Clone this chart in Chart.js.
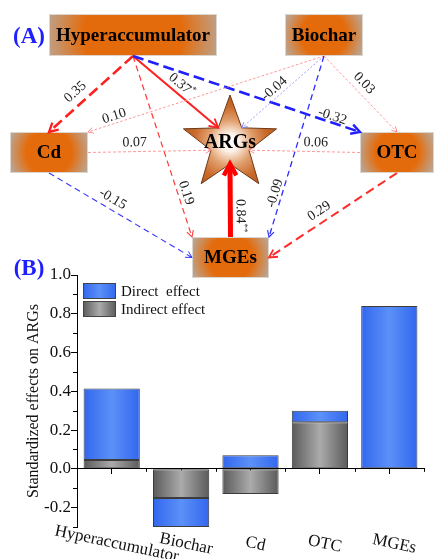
<!DOCTYPE html>
<html>
<head>
<meta charset="utf-8">
<script src="https://cdn.jsdelivr.net/npm/chart.js@4"></script>
<style>
html, body { margin: 0; padding: 0; background: #fff; }
#wrap { position: relative; width: 434px; height: 559px; overflow: hidden; }
canvas { position: absolute; left: 0; top: 0; }
</style>
</head>
<body>
<div id="wrap">
<canvas id="barChart" width="434" height="559"></canvas>
<canvas id="pathChart" width="434" height="290"></canvas>
</div>
<script>
// ---- (B) standardized effects on ARGs ----
const factors = ['Hyperaccumulator', 'Biochar', 'Cd', 'OTC', 'MGEs'];
const directEffect = [0.37, -0.15, 0.07, 0.06, 0.84];
const indirectEffect = [0.045, -0.15, -0.13, 0.24, null];
const yMajorStep = 0.2;
const yMinorStep = 0.1;

// ---- (A) path model ----
const nodes = ['Hyperaccumulator', 'Biochar', 'Cd', 'OTC', 'ARGs', 'MGEs'];
const pathFrom = [0, 0, 0, 0, 1, 1, 1, 1, 2, 3, 2, 3, 5];
const pathTo = [2, 5, 4, 3, 2, 4, 5, 3, 4, 4, 5, 5, 4];
const pathCoef = [0.35, 0.19, 0.37, -0.32, 0.10, -0.04, -0.09, 0.03, 0.07, 0.06, -0.15, 0.29, 0.84];
const pathSig = ['', '', '*', '', '', '', '', '', '', '', '', '', '**'];

// layout of the diagram (diagram units), kept apart from the values
const nodeX = [133, 324, 49, 397, 230, 230.5];
const nodeY = [35, 35, 152.5, 152.5, 144, 257.5];
const nodeW = [168, 78, 78, 74, 0, 77];
const nodeH = [42, 42, 41, 41, 0, 41];
const starOuter = 49, starInner = 20;
const fromAnchor = ['b', 'b', 'b', 'b', 'b', 'b', 'b', 'b', 'r', 'l', 'b', 'b', 't'];
const toAnchor = ['t', 'tl', 'ul', 'tl', 'tr', 'ur', 'tr', 't', 'll', 'lr', 'l', 'r', 'bot'];
const labelT = [0.59, 0.77, 0.50, 0.87, 0.88, 0.54, 0.77, 0.45, 0.38, 0.40, 0.41, 0.56, 0.29];
const labelOff = [12, 8, 9, 6, 7, 8, 7, 10, 9, 9, 10, 11, 10];
const pathColor = ['#ff1f1f', '#ff3a3a', '#ff1f1f', '#1f1fff', '#ff8c8c', '#8585ff', '#2d2dff',
                   '#ff8c8c', '#ff8c8c', '#ff8c8c', '#3535ff', '#ff2a2a', '#ff0000'];
const pathWidth = [2.6, 1.2, 2, 2.6, 0.9, 0.8, 1.3, 0.9, 0.9, 0.9, 1.1, 2, 5];
const pathDash = [[11, 5], [6, 4], [], [11, 5], [2.5, 2], [2, 2], [6, 4], [2.5, 2], [3, 2], [3, 2], [6, 4], [9, 5], []];
const headLen = [10, 7, 10, 10, 6, 6, 7, 6, 6, 6, 7, 9, 13];

const serif = '"Liberation Serif", "Times New Roman", serif';
const barPct = 0.81;
const blueStops = ['#3267ee', '#5c90f8', '#3267ee'];
const grayStops = ['#5a5a5a', '#ababab', '#5a5a5a'];

const isMajor = v => Math.abs(Math.round(v / yMajorStep) * yMajorStep - v) < 1e-6;

function barGradient(c, stops) {
  const chart = c.chart;
  const xs = chart.scales.x;
  if (!xs || !chart.chartArea || c.dataIndex === undefined) return stops[1];
  const cx = xs.getPixelForValue(c.dataIndex);
  const hw = xs.width / factors.length * barPct / 2;
  const g = chart.ctx.createLinearGradient(cx - hw, 0, cx + hw, 0);
  g.addColorStop(0, stops[0]);
  g.addColorStop(0.5, stops[1]);
  g.addColorStop(1, stops[2]);
  return g;
}

const barExtras = {
  id: 'barExtras',
  afterDraw(chart) {
    const ctx = chart.ctx;
    const xs = chart.scales.x, ys = chart.scales.y;
    const area = chart.chartArea;
    const y0 = ys.getPixelForValue(0);
    ctx.save();
    ctx.strokeStyle = '#000';
    ctx.lineWidth = 1;
    // minor ticks (shorter)
    ys.ticks.forEach(t => {
      if (isMajor(t.value)) return;
      const y = Math.round(ys.getPixelForValue(t.value)) + 0.5;
      ctx.beginPath(); ctx.moveTo(area.left - 4, y); ctx.lineTo(area.left, y); ctx.stroke();
    });
    factors.forEach((f, i) => {
      const x = Math.round(xs.getPixelForValue(i + 0.5)) + 0.5;
      ctx.beginPath(); ctx.moveTo(x, y0); ctx.lineTo(x, y0 + 3); ctx.stroke();
    });
    // rotated category labels
    ctx.fillStyle = '#111';
    ctx.font = '17px ' + serif;
    ctx.textAlign = 'center';
    ctx.textBaseline = 'middle';
    factors.forEach((f, i) => {
      ctx.save();
      ctx.translate(xs.getPixelForValue(i) + 5, area.bottom + 17);
      ctx.rotate(12 * Math.PI / 180);
      ctx.fillText(f, 0, 0);
      ctx.restore();
    });
    // legend inside the plot
    const items = [
      { text: chart.data.datasets[1].label, stops: blueStops },
      { text: chart.data.datasets[0].label, stops: grayStops }
    ];
    items.forEach((it, k) => {
      const bx = area.left + 6, by = area.top + 8 + k * 18, bw = 33, bh = 16;
      const g = ctx.createLinearGradient(bx, 0, bx + bw, 0);
      g.addColorStop(0, it.stops[0]); g.addColorStop(0.5, it.stops[1]); g.addColorStop(1, it.stops[2]);
      ctx.fillStyle = g;
      ctx.fillRect(bx, by, bw, bh);
      ctx.strokeStyle = '#444';
      ctx.strokeRect(bx + 0.5, by + 0.5, bw - 1, bh - 1);
      ctx.fillStyle = '#111';
      ctx.font = '15px ' + serif;
      ctx.textAlign = 'left';
      ctx.fillText(it.text, bx + 38, by + bh / 2 + 1);
    });
    // panel letter
    ctx.fillStyle = '#1e1eff';
    ctx.font = 'bold 23px ' + serif;
    ctx.textAlign = 'center';
    ctx.fillText('(B)', 29, area.top - 6);
    ctx.restore();
  }
};

new Chart(document.getElementById('barChart'), {
  type: 'bar',
  data: {
    labels: factors,
    datasets: [
      {
        label: 'Indirect effect',
        data: indirectEffect,
        backgroundColor: c => barGradient(c, grayStops),
        borderColor: '#3c3c3c',
        borderWidth: 1,
        borderSkipped: false,
        barPercentage: barPct,
        categoryPercentage: 1
      },
      {
        label: 'Direct  effect',
        data: directEffect,
        backgroundColor: c => barGradient(c, blueStops),
        borderColor: '#3c3c3c',
        borderWidth: 1,
        borderSkipped: false,
        barPercentage: barPct,
        categoryPercentage: 1
      }
    ]
  },
  options: {
    responsive: false,
    animation: false,
    layout: { padding: { left: 0, right: 10, top: 275, bottom: 32 } },
    plugins: { legend: { display: false }, tooltip: { enabled: false } },
    scales: {
      x: {
        stacked: true,
        position: { y: 0 },
        ticks: { display: false },
        grid: { drawOnChartArea: false, offset: false, tickLength: 5, color: '#000' },
        border: { color: '#000', width: 1 }
      },
      y: {
        stacked: true,
        min: -0.3,
        max: 1.0,
        afterFit: s => { s.width = 77; },
        ticks: {
          stepSize: yMinorStep,
          autoSkip: false,
          color: '#111',
          padding: 0,
          font: { family: serif, size: 17 },
          callback: v => (isMajor(v) ? (Math.abs(v) < 1e-9 ? 0 : v).toFixed(1) : '')
        },
        grid: {
          drawOnChartArea: false,
          tickLength: 6,
          color: '#000',
          tickColor: c => (c.tick && isMajor(c.tick.value) ? '#000' : 'rgba(0,0,0,0)')
        },
        border: { color: '#000', width: 1 },
        title: {
          display: true,
          text: 'Standardized effects on ARGs',
          color: '#111',
          font: { family: serif, size: 16 },
          padding: { top: 24 }
        }
      }
    }
  },
  plugins: [barExtras]
});

// ---- path diagram drawing ----
function drawBox(ctx, cx, cy, w, h) {
  const r = Math.max(w, h) * 0.56;
  const g = ctx.createRadialGradient(cx, cy, 0, cx, cy, r);
  g.addColorStop(0, '#e46b0b');
  g.addColorStop(0.52, '#e46b0b');
  g.addColorStop(1, '#b6aca3');
  ctx.fillStyle = g;
  ctx.fillRect(cx - w / 2, cy - h / 2, w, h);
  ctx.strokeStyle = '#dcd6d0';
  ctx.lineWidth = 1;
  ctx.strokeRect(cx - w / 2 + 0.5, cy - h / 2 + 0.5, w - 1, h - 1);
}

function starPath(ctx, cx, cy, R, r) {
  ctx.beginPath();
  for (let k = 0; k < 10; k++) {
    const a = -Math.PI / 2 + k * Math.PI / 5;
    const rr = k % 2 ? r : R;
    const x = cx + rr * Math.cos(a), y = cy + rr * Math.sin(a);
    if (k) ctx.lineTo(x, y); else ctx.moveTo(x, y);
  }
  ctx.closePath();
}

const starAngles = { ul: -126, ur: -54, ll: 162, lr: 18, bot: 90 };

const pathDiagram = {
  id: 'pathDiagram',
  afterDatasetsDraw(chart) {
    const ctx = chart.ctx;
    const xs = chart.scales.x, ys = chart.scales.y;
    const pts = chart.getDatasetMeta(0).data;
    const sw = v => xs.getPixelForValue(v) - xs.getPixelForValue(0);
    const sh = v => Math.abs(ys.getPixelForValue(v) - ys.getPixelForValue(0));
    const ARG = nodes.indexOf('ARGs');
    const R = sw(starOuter), r = sw(starInner);

    function anchor(i, a) {
      const x = pts[i].x, y = pts[i].y;
      if (i === ARG) {
        const t = starAngles[a] * Math.PI / 180;
        return [x + r * Math.cos(t), y + r * Math.sin(t)];
      }
      const w = sw(nodeW[i]) / 2, h = sh(nodeH[i]) / 2;
      switch (a) {
        case 't': return [x, y - h];
        case 'b': return [x, y + h];
        case 'l': return [x - w, y];
        case 'r': return [x + w, y];
        case 'tl': return [x - w, y - h];
        case 'tr': return [x + w, y - h];
      }
      return [x, y];
    }

    ctx.save();
    // boxes
    nodes.forEach((n, i) => {
      if (i !== ARG) drawBox(ctx, pts[i].x, pts[i].y, sw(nodeW[i]), sh(nodeH[i]));
    });
    // star
    const sx = pts[ARG].x, sy = pts[ARG].y;
    const g = ctx.createRadialGradient(sx, sy - 2, 0, sx, sy, R);
    g.addColorStop(0, '#ffffff');
    g.addColorStop(0.18, '#fdf3ea');
    g.addColorStop(0.45, '#e2a272');
    g.addColorStop(0.75, '#c96a2a');
    g.addColorStop(1, '#b65a1a');
    starPath(ctx, sx, sy, R, r);
    ctx.fillStyle = g;
    ctx.fill();
    ctx.strokeStyle = '#6b3a1a';
    ctx.lineWidth = 1;
    ctx.stroke();

    // arrows
    pathCoef.forEach((v, k) => {
      const [x1, y1] = anchor(pathFrom[k], fromAnchor[k]);
      const [x2, y2] = anchor(pathTo[k], toAnchor[k]);
      const ang = Math.atan2(y2 - y1, x2 - x1);
      ctx.strokeStyle = pathColor[k];
      ctx.lineWidth = pathWidth[k];
      ctx.lineCap = 'butt';
      ctx.setLineDash(pathDash[k]);
      ctx.beginPath();
      ctx.moveTo(x1, y1);
      ctx.lineTo(x2 - Math.cos(ang) * pathWidth[k] * 0.6, y2 - Math.sin(ang) * pathWidth[k] * 0.6);
      ctx.stroke();
      ctx.setLineDash([]);
      const L = headLen[k], spread = 0.5;
      ctx.lineJoin = 'miter';
      ctx.beginPath();
      ctx.moveTo(x2 - L * Math.cos(ang - spread), y2 - L * Math.sin(ang - spread));
      ctx.lineTo(x2, y2);
      ctx.lineTo(x2 - L * Math.cos(ang + spread), y2 - L * Math.sin(ang + spread));
      ctx.lineWidth = Math.max(1, pathWidth[k] * 0.9);
      ctx.stroke();

      // coefficient label
      let a = ang;
      if (a >= Math.PI / 2 + 1e-6) a -= Math.PI;
      if (a < -Math.PI / 2 - 1e-6) a += Math.PI;
      const t = labelT[k];
      const lx = x1 + (x2 - x1) * t + Math.sin(a) * labelOff[k];
      const ly = y1 + (y2 - y1) * t - Math.cos(a) * labelOff[k];
      const txt = v.toFixed(2), sig = pathSig[k];
      ctx.save();
      ctx.translate(lx, ly);
      ctx.rotate(a);
      ctx.font = '14px ' + serif;
      const w1 = ctx.measureText(txt).width;
      ctx.font = '9px ' + serif;
      const w2 = sig ? ctx.measureText(sig).width : 0;
      const x0 = -(w1 + w2) / 2;
      ctx.fillStyle = '#222';
      ctx.textAlign = 'left';
      ctx.textBaseline = 'middle';
      ctx.font = '14px ' + serif;
      ctx.fillText(txt, x0, 0);
      if (sig) {
        ctx.font = '9px ' + serif;
        ctx.fillText(sig, x0 + w1, -4);
      }
      ctx.restore();
    });

    // node names
    ctx.fillStyle = '#000';
    ctx.textAlign = 'center';
    ctx.textBaseline = 'middle';
    nodes.forEach((n, i) => {
      ctx.font = 'bold ' + (i === ARG ? 20 : 19) + 'px ' + serif;
      ctx.fillText(n, pts[i].x, pts[i].y + (i === ARG ? -1 : 1));
    });
    ctx.fillStyle = '#1e1eff';
    ctx.font = 'bold 23px ' + serif;
    ctx.fillText('(A)', 29, 37);
    ctx.restore();
  }
};

new Chart(document.getElementById('pathChart'), {
  type: 'scatter',
  data: {
    datasets: [{
      label: 'nodes',
      data: nodes.map((n, i) => ({ x: nodeX[i], y: nodeY[i] })),
      pointRadius: 0
    }]
  },
  options: {
    responsive: false,
    animation: false,
    layout: { padding: 0, autoPadding: false },
    plugins: { legend: { display: false }, tooltip: { enabled: false } },
    scales: {
      x: { type: 'linear', display: false, min: 0, max: 434 },
      y: { type: 'linear', display: false, min: 0, max: 290, reverse: true }
    }
  },
  plugins: [pathDiagram]
});
</script>
</body>
</html>
